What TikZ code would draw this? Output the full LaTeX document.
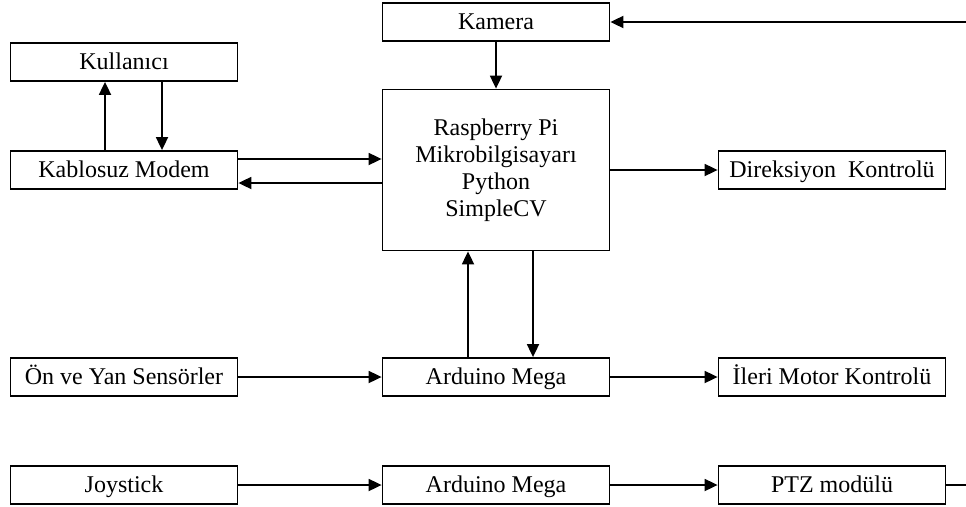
\documentclass[tikz,border=0pt]{standalone}
\usepackage{fontspec}
\setmainfont{Liberation Serif}
\usetikzlibrary{arrows.meta}

\begin{document}
\begin{tikzpicture}[x=1pt,y=-1pt,line width=1.8pt]
      \useasboundingbox (0,0) rectangle (966,506);
      \node[rectangle,draw,inner sep=0pt,minimum width=227pt,minimum height=161pt,
          align=center,font=\fontsize{24}{27}\selectfont] (rpi) at (496,170)
          {Raspberry Pi\\Mikrobilgisayarı\\Python\\SimpleCV};
      \begin{scope}[every node/.style={rectangle,draw,inner sep=0pt,
          minimum width=227pt,minimum height=38pt,text height=18pt,text depth=4pt,
          font=\fontsize{24}{27}\selectfont}]
        \node (kamera) at (496,22) {Kamera};
        \node (kullanici) at (124,62) {Kullanıcı};
        \node (modem) at (124,170) {Kablosuz Modem};
        \node (direksiyon) at (832,170) {Direksiyon\ \ Kontrolü};
        \node (sensor) at (124,377) {Ön ve Yan Sensörler};
        \node (mega1) at (496,377) {Arduino Mega};
        \node (ileri) at (832,377) {İleri Motor Kontrolü};
        \node (joystick) at (124,485) {Joystick};
        \node (mega2) at (496,485) {Arduino Mega};
        \node (ptz) at (832,485) {PTZ modülü};
      \end{scope}
      \coordinate (sagust) at (966,22);
      \coordinate (sagalt) at (966,485);
      \begin{scope}[every edge/.style={draw,line width=1.8pt,-{Triangle[length=13pt,width=12pt]}}]
        \path (sagust) edge (kamera);
        \path (kamera) edge (rpi);
        \path (modem.north -| 105,0) edge (kullanici.south -| 105,0);
        \path (kullanici.south -| 162,0) edge (modem.north -| 162,0);
        \path (modem.east |- 0,159) edge (rpi.west |- 0,159);
        \path (rpi.west |- 0,183) edge (modem.east |- 0,183);
        \path (rpi) edge (direksiyon);
        \path (mega1.north -| 468,0) edge (rpi.south -| 468,0);
        \path (rpi.south -| 533,0) edge (mega1.north -| 533,0);
        \path (sensor) edge (mega1);
        \path (mega1) edge (ileri);
        \path (joystick) edge (mega2);
        \path (mega2) edge (ptz);
        \path[every edge/.append style={-}] (ptz) edge (sagalt);
      \end{scope}
    \end{tikzpicture}
\end{document}
